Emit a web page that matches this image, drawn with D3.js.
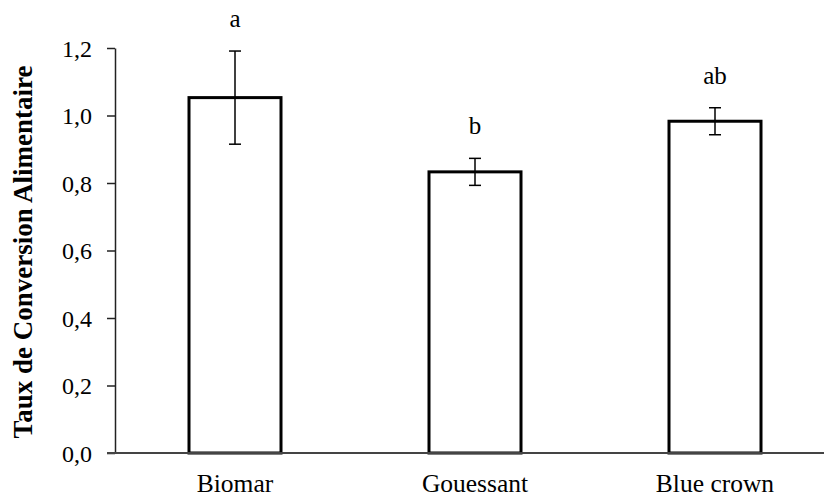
<!DOCTYPE html>
<html><head><meta charset="utf-8">
<script src="https://cdn.jsdelivr.net/npm/d3@7"></script>
<style>body{margin:0;background:#fff}svg{display:block}</style>
</head><body>
<script>
const categories = ["Biomar", "Gouessant", "Blue crown"];
const values = [1.053, 0.833, 0.983];
const errors = [0.138, 0.04, 0.04];
const letters = ["a", "b", "ab"];
const yTicks = [0, 0.2, 0.4, 0.6, 0.8, 1.0, 1.2];

const W = 824, H = 497;
const svg = d3.select("body").append("svg").attr("width", W).attr("height", H);
const x = d3.scalePoint().domain(categories).range([115, 835]).padding(0.5);
const y = d3.scaleLinear().domain([0, 1.2]).range([453, 48]);
const bw = 92;
const font = "'Liberation Serif','Times New Roman',serif";

// y axis
const yAxis = d3.axisLeft(y).tickValues(yTicks).tickSize(8).tickSizeOuter(0)
  .tickFormat(d => d3.format(".1f")(d).replace(".", ","));
const ga = svg.append("g").attr("transform", "translate(115,0)").call(yAxis);
ga.select(".domain").attr("stroke", "#222").attr("stroke-width", 1.5);
ga.selectAll(".tick line").attr("stroke", "#222").attr("stroke-width", 1.5);
ga.selectAll(".tick text").attr("x", -23).attr("dy", "0.35em")
  .style("font-family", font).style("font-size", "24px").attr("fill", "#000");

// bars
svg.selectAll("rect.bar").data(categories).enter().append("rect")
  .attr("x", d => x(d) - bw / 2).attr("width", bw)
  .attr("y", (d, i) => y(values[i])).attr("height", (d, i) => y(0) - y(values[i]))
  .attr("fill", "#fff").attr("stroke", "#000").attr("stroke-width", 3);

// baseline
svg.append("line").attr("x1", 107).attr("x2", W).attr("y1", y(0)).attr("y2", y(0))
  .attr("stroke", "#444").attr("stroke-width", 2);

// error bars
const eg = svg.selectAll("g.err").data(categories).enter().append("g");
eg.append("line").attr("x1", d => x(d)).attr("x2", d => x(d))
  .attr("y1", (d, i) => y(values[i] + errors[i])).attr("y2", (d, i) => y(values[i] - errors[i]))
  .attr("stroke", "#000").attr("stroke-width", 1.5);
[1, -1].forEach(s => {
  eg.append("line").attr("x1", d => x(d) - 6).attr("x2", d => x(d) + 6)
    .attr("y1", (d, i) => y(values[i] + s * errors[i])).attr("y2", (d, i) => y(values[i] + s * errors[i]))
    .attr("stroke", "#000").attr("stroke-width", 1.5);
});

// letters
svg.selectAll("text.let").data(categories).enter().append("text")
  .attr("x", d => x(d)).attr("y", (d, i) => y(values[i] + errors[i]) - 24)
  .attr("text-anchor", "middle").style("font-family", font).style("font-size", "25px")
  .text((d, i) => letters[i]);

// category labels
svg.selectAll("text.cat").data(categories).enter().append("text")
  .attr("x", d => x(d)).attr("y", 492)
  .attr("text-anchor", "middle").style("font-family", font).style("font-size", "25.5px")
  .text(d => d);

// y label
svg.append("text").attr("transform", `translate(32,252) rotate(-90)`)
  .attr("text-anchor", "middle")
  .style("font-family", font).style("font-size", "27px").style("font-weight", "bold")
  .text("Taux de Conversion Alimentaire");
</script>
</body></html>
